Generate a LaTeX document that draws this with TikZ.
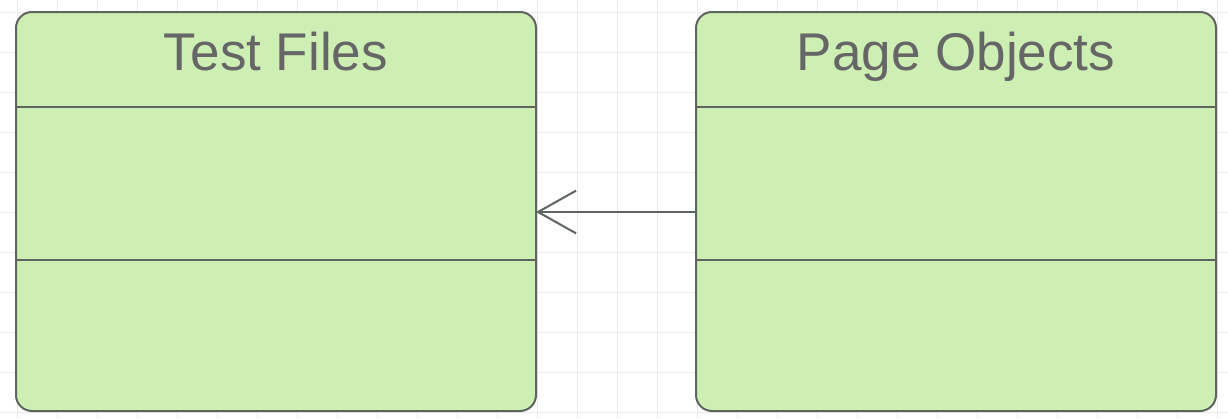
\documentclass[tikz,border=0pt]{standalone}
\usepackage{fontspec}
\setmainfont{Liberation Sans}
\usetikzlibrary{arrows.meta}
\definecolor{gridc}{HTML}{EBEBEB}
\definecolor{boxfill}{HTML}{CDEFB4}
\definecolor{boxline}{HTML}{5E655E}
\definecolor{txt}{HTML}{666666}
\begin{document}
\begin{tikzpicture}[x=0.75pt,y=-0.75pt,
  umlbox/.style={draw=boxline, fill=boxfill, line width=1.5pt, rounded corners=12pt,
    minimum width=390pt, minimum height=299.25pt, inner sep=0pt, outer sep=0pt},
  divider/.style={draw=boxline, line width=1.5pt},
  title/.style={text=txt, font=\fontsize{39.8pt}{44pt}\selectfont, anchor=base, inner sep=0pt},
  conn/.style={draw=boxline, line width=1.5pt, -{Straight Barb[length=28.5pt, width=32pt, line width=1.5pt]}}]
\useasboundingbox (0,0) rectangle (1228,418);
\fill[white] (0,0) rectangle (1228,418);
\foreach \i in {0,...,30} \draw[gridc, line width=0.75pt] (17+40*\i,0) -- (17+40*\i,418);
\foreach \j in {0,...,10} \draw[gridc, line width=0.75pt] (0,12+40*\j) -- (1228,12+40*\j);
\node[umlbox] (L) at (276,211.5) {};
\node[umlbox] (R) at (956,211.5) {};
\draw[divider] (L.west |- 0,107) -- (L.east |- 0,107);
\draw[divider] (L.west |- 0,260) -- (L.east |- 0,260);
\draw[divider] (R.west |- 0,107) -- (R.east |- 0,107);
\draw[divider] (R.west |- 0,260) -- (R.east |- 0,260);
\node[title] (Lt) at (276,70) {Test Files};
\node[title] (Rt) at (956,70) {Page Objects};
\draw[conn] (R.west |- 0,212) -- (L.east |- 0,212);
\end{tikzpicture}
\end{document}
